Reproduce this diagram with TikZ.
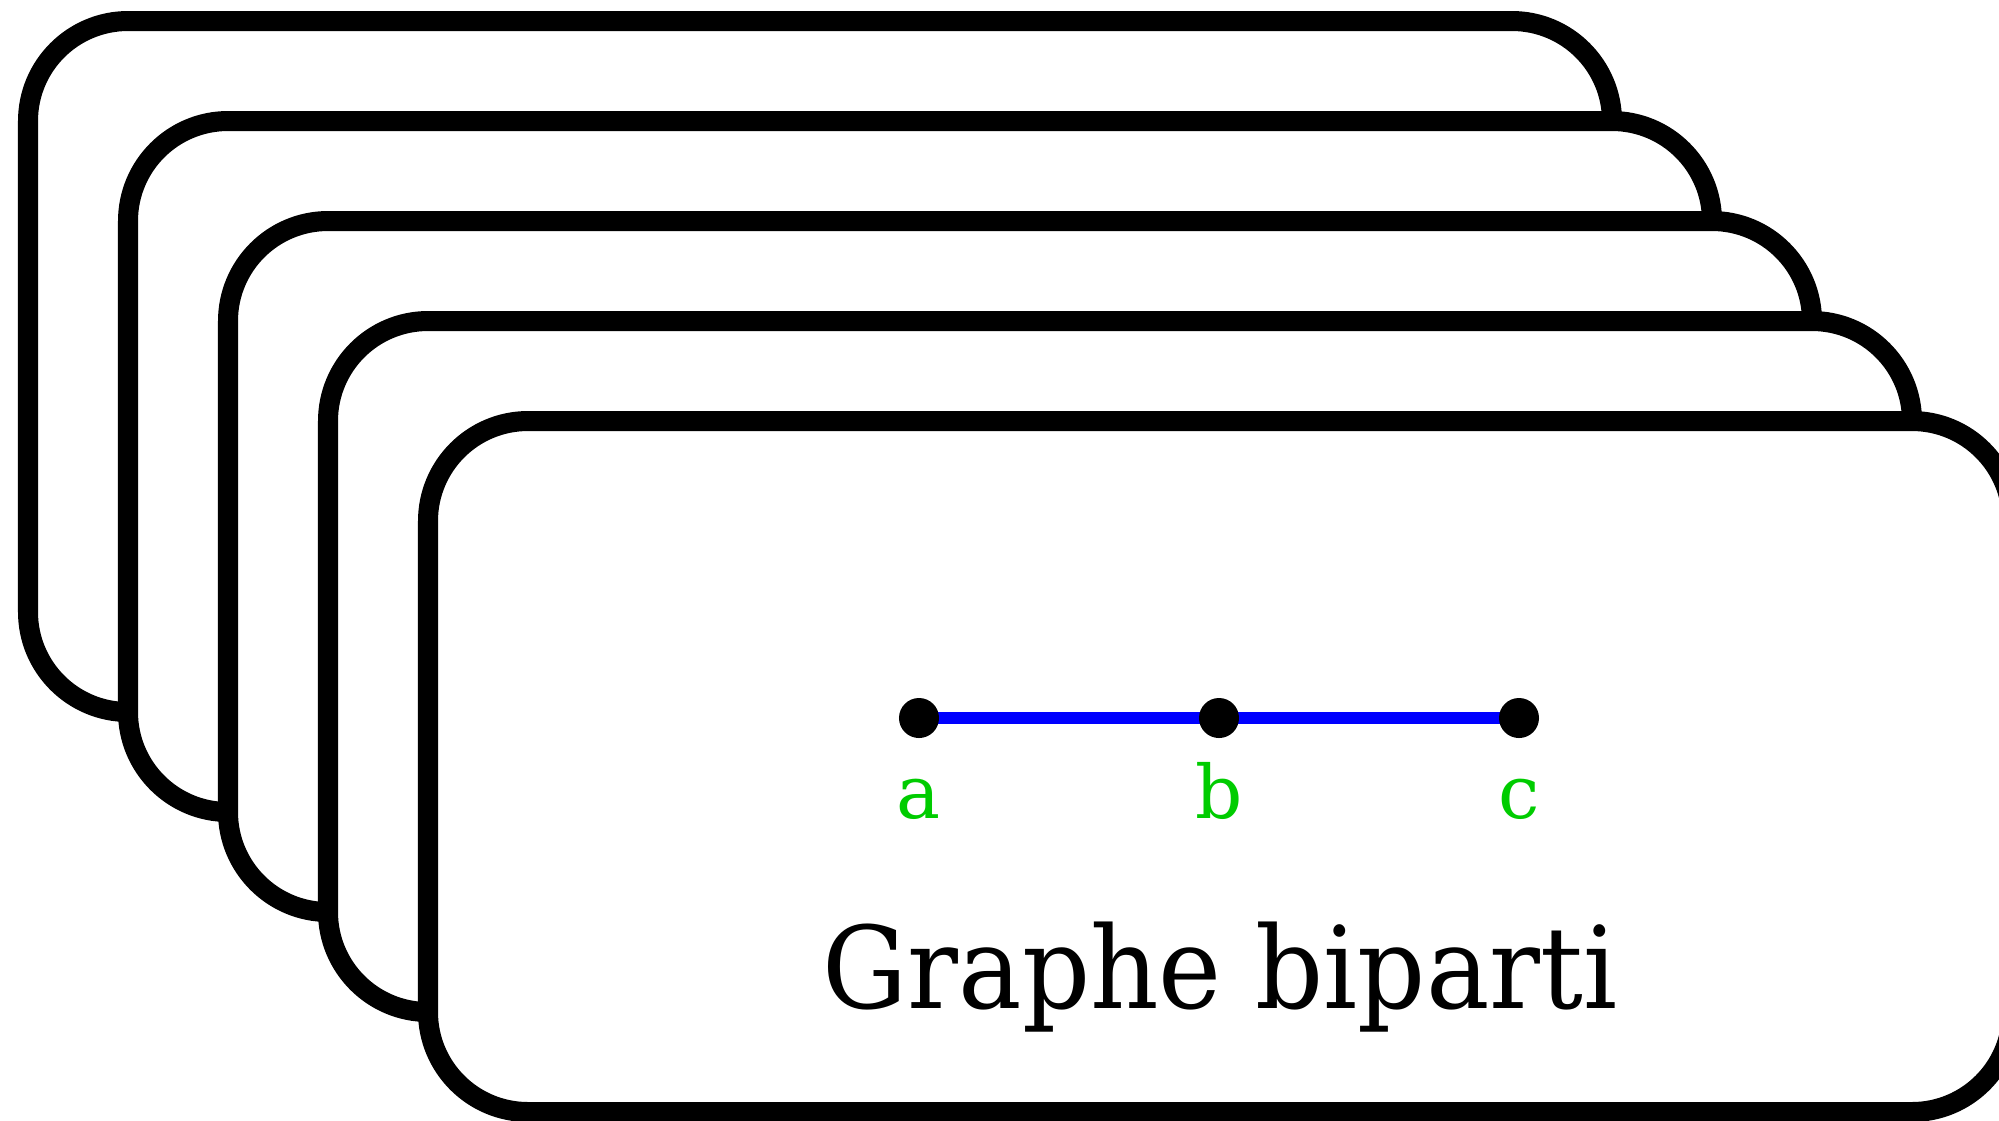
\documentclass[tikz,border=0pt]{standalone}
\usepackage{fontspec}
\setmainfont{DejaVu Serif}
\definecolor{labelgreen}{RGB}{0,204,0}
\definecolor{edgeblue}{RGB}{0,0,255}
\pgfdeclarelayer{front}
\pgfsetlayers{main,front}
\begin{document}
\begin{tikzpicture}[x=0.01cm,y=-0.01cm,
  card/.style={draw=black, fill=white, line width=0.2cm, rounded corners=1cm},
  vertex/.style={circle, fill=black, inner sep=0pt, minimum size=0.4cm},
  edgeline/.style={draw=edgeblue, line width=0.12cm},
  vlabel/.style={text=labelgreen, font=\fontsize{21}{25}\selectfont, anchor=base, inner sep=0pt},
  title/.style={font=\fontsize{32.4}{38}\selectfont, anchor=base, inner sep=0pt}]
\useasboundingbox (0,0) rectangle (1999,1120);
\clip (0,0) rectangle (1999,1120);
% stacked cards, back to front
\foreach \i in {0,...,4} {
  \draw[card] ({28+100*\i},{21+100*\i}) rectangle ({1612+100*\i},{712+100*\i});
}
% path graph a - b - c, vertices drawn above the edges
\begin{pgfonlayer}{front}
\node[vertex] (a) at (919,718) {};
\node[vertex] (b) at (1219,718) {};
\node[vertex] (c) at (1519,718) {};
\end{pgfonlayer}
\draw[edgeline] (a.center) -- (b.center);
\draw[edgeline] (b.center) -- (c.center);
\node[vlabel] (la) at (919,818) {a};
\node[vlabel] (lb) at (1219,818) {b};
\node[vlabel] (lc) at (1519,818) {c};
\node[title] (t) at (1220,1008) {\scalebox{0.935}[1]{Graphe biparti}};
\end{tikzpicture}
\end{document}
